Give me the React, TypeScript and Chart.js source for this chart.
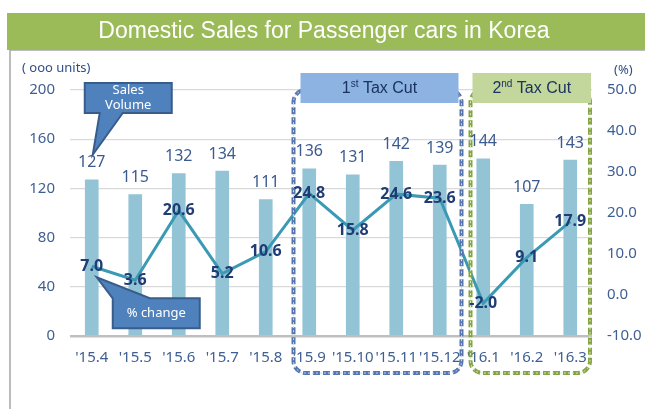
import React, { useEffect, useRef } from 'react';
import { Chart, registerables } from 'chart.js';
Chart.register(...registerables);

const categories = ["'15.4", "'15.5", "'15.6", "'15.7", "'15.8", "'15.9", "'15.10", "'15.11", "'15.12", "'16.1", "'16.2", "'16.3"];
const salesVolume = [127, 115, 132, 134, 111, 136, 131, 142, 139, 144, 107, 143];
const pctChange = [7.0, 3.6, 20.6, 5.2, 10.6, 24.8, 15.8, 24.6, 23.6, -2.0, 9.1, 17.9];
const leftAxis = { min: 0, max: 200, step: 40 };
const rightAxis = { min: -10, max: 50, step: 10 };
const titleText = 'Domestic Sales for Passenger cars in Korea';
const leftUnit = '( ooo units)';
const rightUnit = '(%)';
const firstCut = [5, 8];
const secondCut = [9, 11];

const FONT = '"Noto Sans", sans-serif';
const ARIAL = '"Liberation Sans", Arial, sans-serif';
const TICK_COLOR = '#3F5F93';

function roundRect(ctx: CanvasRenderingContext2D, x: number, y: number, w: number, h: number, r: number) {
  ctx.beginPath();
  ctx.moveTo(x + r, y);
  ctx.arcTo(x + w, y, x + w, y + h, r);
  ctx.arcTo(x + w, y + h, x, y + h, r);
  ctx.arcTo(x, y + h, x, y, r);
  ctx.arcTo(x, y, x + w, y, r);
  ctx.closePath();
}

function dashedBox(ctx: CanvasRenderingContext2D, x: number, y: number, w: number, h: number, dark: string, light: string) {
  ctx.save();
  ctx.setLineDash([7, 3]);
  ctx.lineWidth = 4;
  ctx.strokeStyle = dark;
  roundRect(ctx, x, y, w, h, 12);
  ctx.stroke();
  ctx.setLineDash([2, 2]);
  ctx.lineWidth = 1;
  ctx.strokeStyle = light;
  roundRect(ctx, x, y, w, h, 12);
  ctx.stroke();
  ctx.restore();
}

function labelBox(ctx: CanvasRenderingContext2D, x: number, y: number, w: number, h: number, fill: string, big: string, sup: string, rest: string) {
  ctx.save();
  ctx.fillStyle = fill;
  ctx.fillRect(x, y, w, h);
  const f1 = `16px ${ARIAL}`;
  const f2 = `10px ${ARIAL}`;
  ctx.font = f1;
  const w1 = ctx.measureText(big).width;
  const w3 = ctx.measureText(rest).width;
  ctx.font = f2;
  const w2 = ctx.measureText(sup).width;
  const total = w1 + w2 + w3;
  let cx = x + w / 2 - total / 2;
  const cy = y + h / 2 + 1;
  ctx.fillStyle = '#1A3360';
  ctx.textBaseline = 'middle';
  ctx.textAlign = 'left';
  ctx.font = f1;
  ctx.fillText(big, cx, cy);
  cx += w1;
  ctx.font = f2;
  ctx.fillText(sup, cx, cy - 5);
  cx += w2;
  ctx.font = f1;
  ctx.fillText(rest, cx, cy);
  ctx.restore();
}

function callout(ctx: CanvasRenderingContext2D, x: number, y: number, w: number, h: number, side: 'top' | 'bottom', b1: number, b2: number, tx: number, ty: number, lines: string[]) {
  ctx.save();
  ctx.beginPath();
  if (side === 'bottom') {
    ctx.moveTo(x, y);
    ctx.lineTo(x + w, y);
    ctx.lineTo(x + w, y + h);
    ctx.lineTo(b2, y + h);
    ctx.lineTo(tx, ty);
    ctx.lineTo(b1, y + h);
    ctx.lineTo(x, y + h);
  } else {
    ctx.moveTo(x, y);
    ctx.lineTo(tx, ty);
    ctx.lineTo(b2, y);
    ctx.lineTo(x + w, y);
    ctx.lineTo(x + w, y + h);
    ctx.lineTo(x, y + h);
  }
  ctx.closePath();
  ctx.fillStyle = '#4F81BD';
  ctx.fill();
  ctx.lineWidth = 2;
  ctx.strokeStyle = '#385D8A';
  ctx.stroke();
  ctx.fillStyle = '#FFFFFF';
  ctx.font = `13px ${FONT}`;
  ctx.textAlign = 'center';
  ctx.textBaseline = 'middle';
  const lh = 15;
  const start = y + h / 2 - ((lines.length - 1) * lh) / 2;
  lines.forEach((l, i) => ctx.fillText(l, x + w / 2, start + i * lh));
  ctx.restore();
}

const decorPlugin = {
  id: 'decor',
  beforeDraw(chart: any) {
    const ctx: CanvasRenderingContext2D = chart.ctx;
    const W = chart.width;
    const H = chart.height;
    ctx.save();
    ctx.fillStyle = '#FFFFFF';
    ctx.fillRect(0, 0, W, H);
    ctx.fillStyle = '#9BBB59';
    ctx.fillRect(7, 13, W - 7, 37);
    ctx.fillStyle = '#FFFFFF';
    ctx.font = `23px ${ARIAL}`;
    ctx.textAlign = 'center';
    ctx.textBaseline = 'middle';
    ctx.fillText(titleText, 324, 32);
    ctx.strokeStyle = '#A6A6A6';
    ctx.lineWidth = 1.5;
    ctx.beginPath();
    ctx.moveTo(10, 50);
    ctx.lineTo(W, 50);
    ctx.moveTo(10, 50);
    ctx.lineTo(10, H);
    ctx.stroke();
    ctx.fillStyle = '#2F4F85';
    ctx.font = `13px ${FONT}`;
    ctx.textAlign = 'left';
    ctx.fillText(leftUnit, 22, 68);
    ctx.fillText(rightUnit, 614, 70);
    ctx.restore();
  },
  afterDraw(chart: any) {
    const ctx: CanvasRenderingContext2D = chart.ctx;
    const xs = chart.scales.x;
    const yl = chart.scales.y;
    const yr = chart.scales.y1;
    const area = chart.chartArea;
    const cat = xs.getPixelForValue(1) - xs.getPixelForValue(0);
    const xOf = (i: number) => xs.getPixelForValue(i);

    const b1l = xOf(firstCut[0]) - cat / 2 + 6;
    const b1r = xOf(firstCut[1]) + cat / 2;
    dashedBox(ctx, b1l, area.top, b1r - b1l, area.bottom + 37 - area.top, '#5676B0', '#C9D6EC');
    const b2l = xOf(secondCut[0]) - cat / 2 + 9;
    const b2r = xOf(secondCut[1]) + cat / 2 - 2;
    dashedBox(ctx, b2l, area.top, b2r - b2l, area.bottom + 37 - area.top, '#84A444', '#DDE8C4');

    labelBox(ctx, xOf(firstCut[0]) - cat / 2 + 13, area.top - 17, (xOf(firstCut[1]) + cat / 2 - 3) - (xOf(firstCut[0]) - cat / 2 + 13), 30, '#8DB3E2', '1', 'st', ' Tax Cut');
    labelBox(ctx, xOf(secondCut[0]) - cat / 2 + 11, area.top - 17, (xOf(secondCut[1]) + cat / 2 - 1) - (xOf(secondCut[0]) - cat / 2 + 11), 30, '#C3D69B', '2', 'nd', ' Tax Cut');

    ctx.save();
    ctx.font = `16px ${FONT}`;
    ctx.fillStyle = '#3B5A8F';
    ctx.textAlign = 'center';
    ctx.textBaseline = 'middle';
    salesVolume.forEach((v, i) => {
      ctx.fillText(String(v), xOf(i), yl.getPixelForValue(v) - 17);
    });
    ctx.font = `bold 16px ${FONT}`;
    ctx.fillStyle = '#1F3C74';
    pctChange.forEach((v, i) => {
      ctx.fillText(v.toFixed(1), xOf(i), yr.getPixelForValue(v));
    });
    ctx.restore();

    const x0 = xOf(0);
    const barTop0 = yl.getPixelForValue(salesVolume[0]);
    const cl = x0 - 7;
    callout(ctx, cl, area.top - 7, 87, 30, 'bottom', cl + 15, cl + 38, x0 + 1, barTop0 - 25, ['Sales', 'Volume']);
    const lineY0 = yr.getPixelForValue(pctChange[0]);
    const pl = x0 + 21;
    callout(ctx, pl, lineY0 + 32, 87, 30, 'top', pl, pl + 37, x0 + 5, lineY0 + 11, ['% change']);
  },
};

export default function App() {
  const ref = useRef<HTMLCanvasElement>(null);
  useEffect(() => {
    if (!ref.current) return;
    const chart = new Chart(ref.current, {
      type: 'bar',
      data: {
        labels: categories,
        datasets: [
          {
            type: 'line',
            label: '% change',
            data: pctChange,
            yAxisID: 'y1',
            borderColor: '#3A9AB3',
            borderWidth: 3,
            pointRadius: 0,
            tension: 0,
            order: 0,
          } as any,
          {
            type: 'bar',
            label: 'Sales Volume',
            data: salesVolume,
            yAxisID: 'y',
            backgroundColor: '#93C4D6',
            barThickness: 13,
            order: 1,
          },
        ],
      },
      plugins: [decorPlugin],
      options: {
        responsive: false,
        animation: false,
        layout: { padding: { left: 0, right: 0, top: 90, bottom: 0 } },
        plugins: { legend: { display: false }, tooltip: { enabled: false }, title: { display: false } },
        scales: {
          x: {
            offset: true,
            grid: { display: false, drawTicks: false },
            border: { display: false },
            ticks: { color: TICK_COLOR, font: { family: FONT, size: 15 }, padding: 13, maxRotation: 0, autoSkip: false },
            afterFit: (s: any) => { s.height = 73; },
          },
          y: {
            position: 'left',
            min: leftAxis.min,
            max: leftAxis.max,
            border: { display: false },
            grid: {
              drawTicks: false,
              color: (c: any) => (c.tick && c.tick.value === 0 ? '#BFBFBF' : '#D9D9D9'),
              lineWidth: (c: any) => (c.tick && c.tick.value === 0 ? 2.5 : 1.2),
            },
            ticks: { stepSize: leftAxis.step, color: TICK_COLOR, font: { family: FONT, size: 15 }, padding: 15 },
            afterFit: (s: any) => { s.width = 70; },
          },
          y1: {
            position: 'right',
            min: rightAxis.min,
            max: rightAxis.max,
            border: { display: false },
            grid: { display: false, drawTicks: false },
            ticks: {
              stepSize: rightAxis.step,
              color: TICK_COLOR,
              font: { family: FONT, size: 15 },
              padding: 15,
              callback: (v: any) => Number(v).toFixed(1),
            },
            afterFit: (s: any) => { s.width = 53; },
          },
        },
      },
    });
    return () => chart.destroy();
  }, []);
  return (
    <div style={{ position: 'absolute', left: 0, top: 0, width: 645, height: 409 }}>
      <canvas ref={ref} width={645} height={409} style={{ display: 'block' }} />
    </div>
  );
}
